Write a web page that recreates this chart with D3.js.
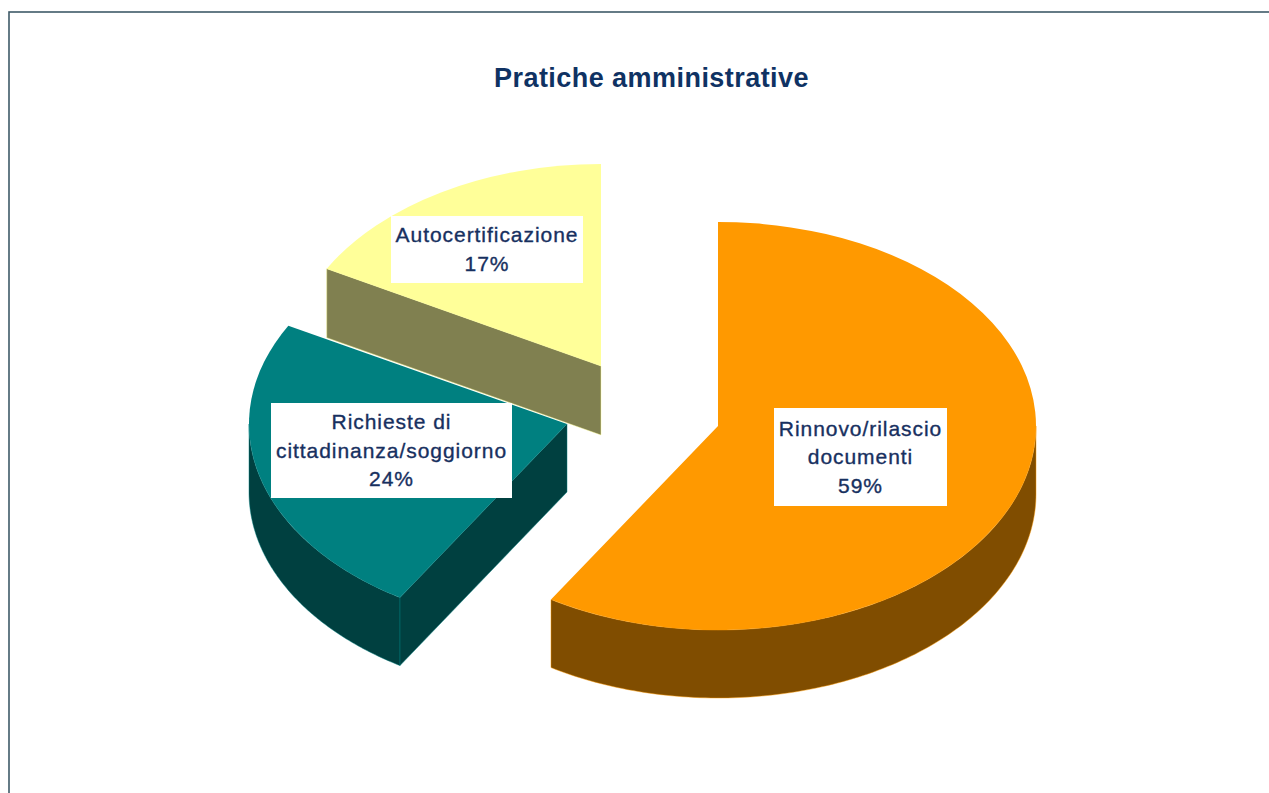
<!DOCTYPE html>
<html>
<head>
<meta charset="utf-8">
<script src="https://d3js.org/d3.v7.min.js"></script>
<style>
html,body{margin:0;padding:0;background:#fff;overflow:hidden}
svg{display:block}
text{font-family:"Liberation Sans",Arial,sans-serif}
</style>
</head>
<body>
<svg id="c" width="1269" height="793"></svg>
<script>
const chartTitle = "Pratiche amministrative";
const categories = ["Rinnovo/rilascio documenti", "Richieste di cittadinanza/soggiorno", "Autocertificazione"];
const labelLines = [["Rinnovo/rilascio", "documenti"], ["Richieste di", "cittadinanza/soggiorno"], ["Autocertificazione"]];
const values = [58.8, 24.2, 17.0];
const percentLabels = ["59%", "24%", "17%"];
const topColors = ["#FF9900", "#008080", "#FFFF99"];
const sideColors = ["#804D00", "#004040", "#808050"];

// layout
const W = 1269, H = 793;
const rxBySlice = [318, 318, 313];
const ryBySlice = [204, 204, 202];
const depthBySlice = [68, 68, 69];
const centers = [[718, 426], [567, 424], [601, 366]];
const boxes = [[774, 408, 173, 98], [271, 403, 241, 95], [391, 216, 192, 67]];
const textColor = "#17305F";

const svg = d3.select("#c");
svg.append("rect").attr("x", 9).attr("y", 12).attr("width", W + 20).attr("height", H + 20)
  .attr("fill", "#fff").attr("stroke", "#3f5a68").attr("stroke-width", 1.6);

svg.append("text").attr("x", 651.5).attr("y", 87).attr("text-anchor", "middle")
  .attr("font-size", 27).attr("font-weight", 700).attr("letter-spacing", 0.45)
  .attr("fill", "#0F3263").text(chartTitle);

const pie = d3.pie().sort(null).value(d => d)(values);
const TAU = 2 * Math.PI;

function rimPoint(a, i) { return [rxBySlice[i] * Math.sin(a), -ryBySlice[i] * Math.cos(a)]; }

// draw back to front
[2, 1, 0].forEach(i => {
  const p = pie[i], ry = ryBySlice[i], rx = rxBySlice[i], depth = depthBySlice[i];
  const arc = d3.arc().innerRadius(0).outerRadius(rx);
  const g = svg.append("g").attr("transform", `translate(${centers[i][0]},${centers[i][1]})`);
  const wallAttrs = s => s.attr("fill", sideColors[i]).attr("stroke", topColors[i])
    .attr("stroke-width", 0.7).attr("stroke-opacity", 0.65).attr("stroke-linejoin", "round");

  // outer rim wall: visible for the front half of the ellipse
  const a0 = Math.max(p.startAngle, Math.PI / 2), a1 = Math.min(p.endAngle, 3 * Math.PI / 2);
  if (a1 > a0) {
    const angles = d3.range(0, 121).map(k => a0 + (a1 - a0) * k / 120);
    const area = d3.area().x(a => rimPoint(a, i)[0]).y0(a => rimPoint(a, i)[1])
      .y1(a => rimPoint(a, i)[1] + depth);
    g.append("path").attr("d", area(angles)).call(wallAttrs);
  }
  // radial wall on the start edge, visible when it faces the viewer
  if (p.startAngle > Math.PI && p.startAngle < TAU) {
    const e = rimPoint(p.startAngle, i);
    const pts = [[0, 0], e, [e[0], e[1] + depth], [0, depth]];
    g.append("path").attr("d", d3.line()(pts) + "Z").call(wallAttrs);
  }
  // top face
  g.append("path").attr("d", arc(p)).attr("transform", `scale(1,${ry / rx})`).attr("fill", topColors[i]);
});

// labels
[2, 1, 0].forEach(i => {
  const b = boxes[i];
  svg.append("rect").attr("x", b[0]).attr("y", b[1]).attr("width", b[2]).attr("height", b[3]).attr("fill", "#fff");
  const lines = labelLines[i].concat(percentLabels[i]);
  const lh = 28.5;
  const startY = b[1] + b[3] / 2 - (lines.length - 1) * lh / 2 + 7;
  const t = svg.append("text").attr("text-anchor", "middle").attr("font-size", 21).attr("letter-spacing", 0.95)
    .attr("fill", textColor).attr("stroke", textColor).attr("stroke-width", 0.35);
  lines.forEach((l, k) => t.append("tspan").attr("x", b[0] + b[2] / 2).attr("y", startY + k * lh).text(l));
});
</script>
</body>
</html>
